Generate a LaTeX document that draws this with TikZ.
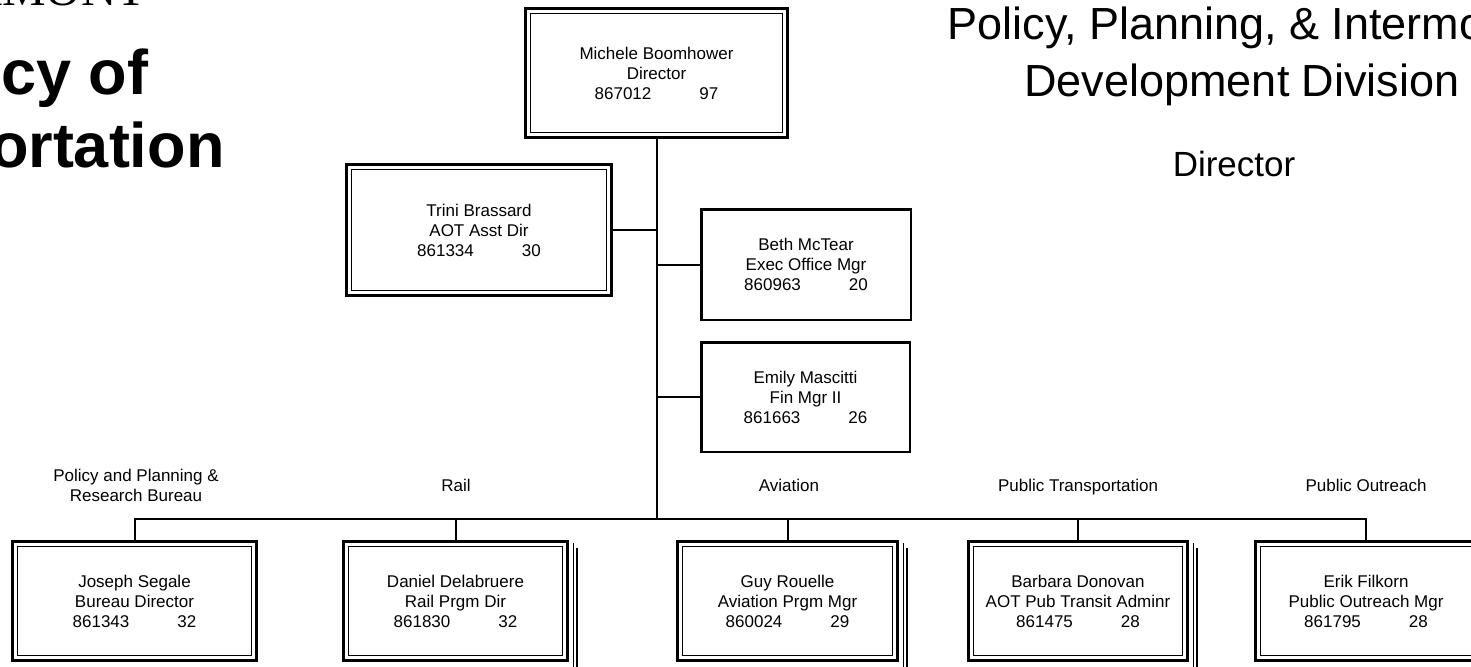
\documentclass[tikz,border=0pt]{standalone}
\usepackage{fontspec}
\setmainfont{Liberation Sans}
\newfontfamily\seriffont{Liberation Serif}
\usetikzlibrary{positioning}
\newcommand{\pnum}[2]{#1\hspace{48pt}#2}

\begin{document}
\begin{tikzpicture}[x=1pt, y=-1pt,
    every node/.style={font=\fontsize{17}{20}\selectfont, align=center},
    post/.style={draw, line width=2.5pt, inner sep=0pt},
    dbl/.style={post, line width=3pt,
      path picture={\draw[line width=1.8pt]
        ([shift={(5pt,5pt)}]path picture bounding box.south west) rectangle
        ([shift={(-5pt,-5pt)}]path picture bounding box.north east);}},
    link/.style={line width=2pt},
    head/.style={font=\fontsize{45}{56}\selectfont, anchor=base},
    agencyfont/.style={font=\bfseries\fontsize{63}{72}\selectfont, anchor=base east}]
            \useasboundingbox (0,0) rectangle (1471,666);
            \clip (0,0) rectangle (1471,666);

            % headings
            \node[font=\seriffont\fontsize{49}{50}\selectfont, anchor=base east] (state) at (150,6) {VERMONT};
            \node[agencyfont] (agency) at (152,95) {Agency of};
            \node[agencyfont] (trans) at (228,167) {Transportation};
            \node[head] (title) at (1246,40) {Policy, Planning, \& Intermodal};
            \node[head] (title2) at (1242,97) {Development Division};
            \node[font=\fontsize{35}{40}\selectfont, anchor=base] (role) at (1234,176) {Director};

            % director and staff
            \node[dbl, minimum width=262pt, minimum height=129pt] (dir) at (656.5,73) {Michele Boomhower\\Director\\\pnum{867012}{97}};
            \node[dbl, minimum width=265pt, minimum height=131pt] (asst) at (479,230) {Trini Brassard\\AOT Asst Dir\\\pnum{861334}{30}};
            \node[post, minimum width=209.5pt, minimum height=110.5pt] (exec) at (806,264.5) {Beth McTear\\Exec Office Mgr\\\pnum{860963}{20}};
            \node[post, minimum width=208.5pt, minimum height=109.5pt] (fin) at (805.5,397) {Emily Mascitti\\Fin Mgr II\\\pnum{861663}{26}};

            % bureaus
            \node[dbl, minimum width=244pt, minimum height=119pt] (research) at (134.5,601) {Joseph Segale\\Bureau Director\\\pnum{861343}{32}};
            \node[dbl, minimum width=224pt, minimum height=119pt] (rail) at (455.5,601) {Daniel Delabruere\\Rail Prgm Dir\\\pnum{861830}{32}};
            \node[dbl, minimum width=220pt, minimum height=119pt] (aviation) at (787.5,601) {Guy Rouelle\\Aviation Prgm Mgr\\\pnum{860024}{29}};
            \node[dbl, minimum width=219pt, minimum height=119pt] (transit) at (1078,601) {Barbara Donovan\\AOT Pub Transit Adminr\\\pnum{861475}{28}};
            \node[dbl, minimum width=221pt, minimum height=119pt] (outreach) at (1366,601) {Erik Filkorn\\Public Outreach Mgr\\\pnum{861795}{28}};

            \node (lresearch) at (136,485) {Policy and Planning \&\\Research Bureau};
            \node[anchor=base] (lrail) at (456,491) {Rail};
            \node[anchor=base] (laviation) at (789,491) {Aviation};
            \node[anchor=base] (ltransit) at (1078,491) {Public Transportation};
            \node[anchor=base] (loutreach) at (1366,491) {Public Outreach};

            % lines
            \coordinate (bus) at (656.5,519);
            \draw[link] (dir.south) -- (bus);
            \draw[link] (asst.east) -- (asst.east -| dir.south);
            \draw[link] (exec.west) -- (exec.west -| dir.south);
            \draw[link] (fin.west) -- (fin.west -| dir.south);
            \draw[link] (research.north) |- (bus) -| (outreach.north);
            \foreach \b in {rail, aviation, transit} {
                \draw[link] (\b.north) -- (\b.north |- bus);
                \draw[line width=1pt] ([shift={(4pt,-3pt)}]\b.north east) -- ([shift={(4pt,-8pt)}]\b.south east);
                \draw[line width=2pt] ([shift={(8pt,-8pt)}]\b.north east) -- ([shift={(8pt,-8pt)}]\b.south east);
            }
        \end{tikzpicture}
\end{document}
